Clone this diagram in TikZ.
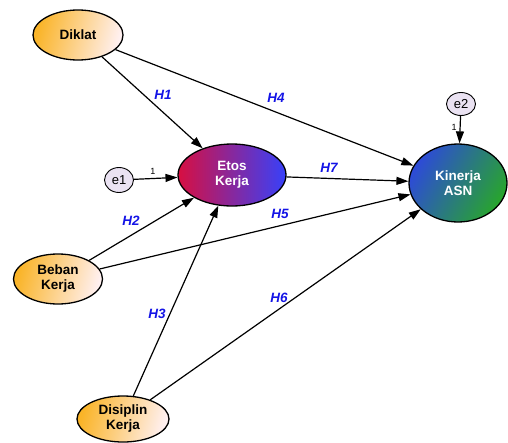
\documentclass[tikz,border=0pt]{standalone}
\usepackage{fontspec}
\setmainfont{Liberation Sans}
\usetikzlibrary{arrows.meta,shapes.geometric}
\definecolor{orangeL}{RGB}{250,180,40}
\definecolor{pinkR}{RGB}{255,240,240}
\definecolor{crimson}{RGB}{215,15,65}
\definecolor{blueR}{RGB}{55,65,250}
\definecolor{blueK}{RGB}{45,75,215}
\definecolor{greenK}{RGB}{40,165,45}
\definecolor{errfill}{RGB}{234,226,242}
\definecolor{hblue}{RGB}{20,20,230}
\tikzset{
  lat/.style={ellipse, draw=black, line width=1.3pt, inner sep=0pt,
    font=\fontsize{13.5}{15}\selectfont\bfseries, align=center},
  exo/.style={lat, left color=orangeL, right color=pinkR, shading angle=75},
  errc/.style={ellipse, draw=black, line width=0.9pt, fill=errfill, inner sep=0pt,
    minimum width=29pt, minimum height=25pt, font=\fontsize{13}{14}\selectfont},
  path/.style={line width=1.2pt, -{Triangle[length=12pt,width=8pt]}},
  hlab/.style={font=\fontsize{13.5}{15}\selectfont\bfseries\itshape, text=hblue, inner sep=0pt},
  onelab/.style={font=\fontsize{9}{10}\selectfont, inner sep=0pt}
}
\begin{document}
\begin{tikzpicture}[x=1pt,y=-1pt]
\useasboundingbox (0,0) rectangle (508,442);
\node[exo, minimum width=90pt, minimum height=50pt] (dik) at (78,35) {Diklat};
\node[exo, minimum width=89pt, minimum height=50pt] (beb) at (58,279) {Beban\\Kerja};
\node[exo, minimum width=92pt, minimum height=46pt] (dis) at (123,419) {Disiplin\\Kerja};
\node[lat, minimum width=108pt, minimum height=62pt, text=white,
      left color=crimson, right color=blueR, shading angle=90] (eto) at (232,175) {Etos\\Kerja};
\node[lat, minimum width=98pt, minimum height=78pt, text=white,
      left color=blueK, right color=greenK, shading angle=60] (kin) at (458,183) {Kinerja\\ASN};
\node[errc] (e1) at (119,180) {e1};
\node[errc, minimum height=23pt] (e2) at (461,104) {e2};

\draw[path] (dik) -- (eto);
\draw[path] (dik) -- (kin);
\draw[path] (e1) -- (eto);
\draw[path] (eto) -- (kin);
\draw[path] (beb) -- (eto);
\draw[path] (beb) -- (kin);
\draw[path] (dis) -- (eto);
\draw[path] (dis) -- (kin);
\draw[path] (e2) -- (kin);

\node[hlab] (h1) at (163,95) {H1};
\node[hlab] (h4) at (276,98) {H4};
\node[hlab] (h7) at (329,168) {H7};
\node[hlab] (h2) at (131,221) {H2};
\node[hlab] (h5) at (280,214) {H5};
\node[hlab] (h3) at (157,314) {H3};
\node[hlab] (h6) at (279,298) {H6};
\node[onelab] (o1) at (153,171) {1};
\node[onelab] (o2) at (454,127) {1};
\end{tikzpicture}
\end{document}
